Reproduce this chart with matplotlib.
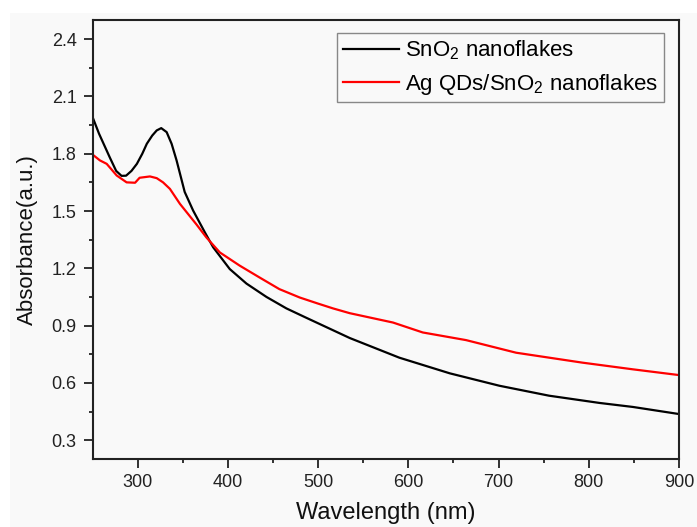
import matplotlib as mpl
import matplotlib.pyplot as plt
from matplotlib.patches import Rectangle

mpl.rcParams.update(
    {
        "font.family": ["Liberation Sans", "DejaVu Sans"],
        "mathtext.fontset": "custom",
        "mathtext.rm": "Liberation Sans",
        "axes.linewidth": 1.5,
    }
)

# SnO2 nanoflakes
sno2_wl = [250, 257, 269, 276, 282, 287, 293, 299, 305, 310, 316, 321, 326, 332, 337.5, 343,
           352, 361.4, 374.4, 383.6, 402, 420.5, 442.7, 464.8, 485, 500, 535, 590, 646, 701,
           756, 812, 849, 900]
sno2_abs = [1.99, 1.905, 1.78, 1.71, 1.684, 1.685, 1.71, 1.747, 1.80, 1.852, 1.895, 1.922,
            1.934, 1.913, 1.852, 1.765, 1.60, 1.502, 1.388, 1.31, 1.196, 1.12, 1.05, 0.99,
            0.945, 0.912, 0.835, 0.732, 0.65, 0.585, 0.533, 0.495, 0.474, 0.437]

# Ag QDs/SnO2 nanoflakes
ag_wl = [250, 258, 265.5, 276.6, 287.6, 297, 302, 313.5, 321, 328, 335.6, 346.8, 365, 376,
         391, 413, 435, 457, 479.6, 500, 516.5, 535, 583, 616, 664, 719.5, 793, 849, 900]
ag_abs = [1.795, 1.765, 1.747, 1.686, 1.65, 1.648, 1.674, 1.681, 1.672, 1.65, 1.616, 1.537,
          1.43, 1.362, 1.283, 1.214, 1.152, 1.091, 1.047, 1.015, 0.99, 0.965, 0.916, 0.864,
          0.824, 0.758, 0.706, 0.671, 0.641]

x_ticks = [300, 400, 500, 600, 700, 800, 900]
y_ticks = [0.3, 0.6, 0.9, 1.2, 1.5, 1.8, 2.1, 2.4]

fig = plt.figure(figsize=(6.97, 5.27), dpi=100, facecolor="white")
fig.patches.append(
    Rectangle((10 / 697, 0), 687 / 697, 514 / 527, transform=fig.transFigure,
              facecolor="#f9f9f9", edgecolor="none", zorder=-5)
)
ax = fig.add_axes([0.133, 0.1285, 0.841, 0.8335])
ax.set_facecolor("#f9f9f9")

ax.plot(sno2_wl, sno2_abs, color="black", lw=1.6, label=r"SnO$_2$ nanoflakes")
ax.plot(ag_wl, ag_abs, color="#ff0000", lw=1.6, label=r"Ag QDs/SnO$_2$ nanoflakes")

ax.set_xlim(250, 900)
ax.set_ylim(0.2, 2.5)
ax.set_xticks(x_ticks)
ax.set_yticks(y_ticks)
ax.set_xticks([350, 450, 550, 650, 750, 850], minor=True)
ax.set_yticks([0.45, 0.75, 1.05, 1.35, 1.65, 1.95, 2.25], minor=True)
ax.tick_params(axis="both", which="major", direction="out", length=6.5, width=1.3,
               labelsize=13, colors="#222222", pad=5)
ax.tick_params(axis="x", which="major", pad=4)
ax.tick_params(axis="both", which="minor", direction="out", length=3, width=1.3,
               colors="#222222")
for s in ax.spines.values():
    s.set_color("#222222")

ax.set_xlabel("Wavelength (nm)", fontsize=17, labelpad=8, color="#111111")
ax.set_ylabel("Absorbance(a.u.)", fontsize=16, labelpad=10, color="#111111")

leg = ax.legend(loc="upper right", bbox_to_anchor=(0.9744, 0.9704), borderaxespad=0,
                fontsize=16, fancybox=False, framealpha=1, facecolor="#f9f9f9",
                edgecolor="#888888", handlelength=2.5, handletextpad=0.3,
                borderpad=0.25, labelspacing=0.42)
leg.get_frame().set_linewidth(1.0)

fig.savefig("out.png", dpi=100)
